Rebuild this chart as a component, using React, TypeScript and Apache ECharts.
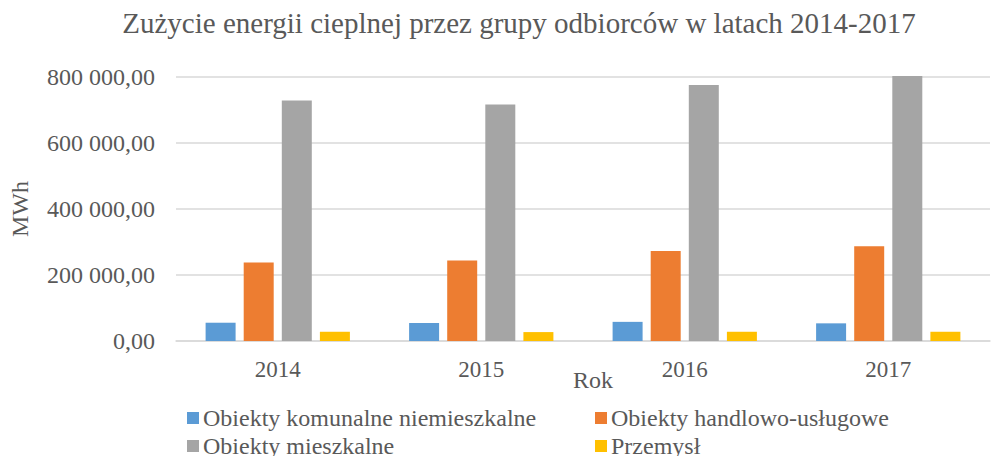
import React, { useEffect, useRef } from "react";
import * as echarts from "echarts";

const categories = ["2014", "2015", "2016", "2017"];
const komunalne = [55400, 54500, 58000, 53500];
const handlowe = [238000, 244000, 273000, 287500];
const mieszkalne = [728500, 717000, 776000, 803000];
const przemysl = [28000, 27000, 28000, 28000];
const seriesNames = [
  "Obiekty komunalne niemieszkalne",
  "Obiekty handlowo-usługowe",
  "Obiekty mieszkalne",
  "Przemysł",
];
const colors = ["#5b9bd5", "#ed7d31", "#a5a5a5", "#ffc000"];

const FONT = "'Liberation Serif', 'Times New Roman', serif";
const TXT = "#595959";

function fmt(v: number): string {
  const s = Math.round(v).toString().replace(/\B(?=(\d{3})+(?!\d))/g, " ");
  return s + ",00";
}

export default function App() {
  const ref = useRef<HTMLDivElement>(null);
  useEffect(() => {
    document.body.style.margin = "0";
    const chart = echarts.init(ref.current!, null, { renderer: "svg" });
    const data = [komunalne, handlowe, mieszkalne, przemysl];
    const legendBase = {
      orient: "vertical",
      top: 406,
      height: 70,
      padding: 0,
      itemWidth: 12,
      itemHeight: 12,
      itemGap: 4,
      icon: "rect",
      textStyle: { fontFamily: FONT, fontSize: 24, color: TXT, padding: [0, 0, 0, -1] },
    };
    chart.setOption({
      animation: false,
      textStyle: { fontFamily: FONT },
      title: {
        text: "Zużycie energii cieplnej przez grupy odbiorców w latach 2014-2017",
        left: 519,
        textAlign: "center",
        top: 8,
        padding: 0,
        textStyle: { fontFamily: FONT, fontSize: 29, fontWeight: "normal", color: TXT },
      },
      legend: [
        { ...legendBase, data: [seriesNames[0], seriesNames[2]], left: 187 },
        { ...legendBase, data: [seriesNames[1], seriesNames[3]], left: 595 },
      ],
      grid: { left: 176, right: 6, top: 77, bottom: 115, containLabel: false },
      xAxis: {
        type: "category",
        data: categories,
        axisLine: { lineStyle: { color: "#d9d9d9", width: 1.5 } },
        axisTick: { show: false },
        axisLabel: { fontFamily: FONT, fontSize: 23, color: TXT, margin: 17 },
      },
      yAxis: {
        type: "value",
        min: 0,
        max: 800000,
        interval: 200000,
        name: "MWh",
        nameLocation: "middle",
        nameRotate: 90,
        nameGap: 144,
        nameTextStyle: { fontFamily: FONT, fontSize: 24, color: TXT },
        axisLine: { show: false },
        axisTick: { show: false },
        splitLine: { lineStyle: { color: "#d9d9d9", width: 1.5 } },
        axisLabel: { fontFamily: FONT, fontSize: 24, color: TXT, margin: 21, formatter: (v: number) => fmt(v) },
      },
      graphic: [
        {
          type: "text",
          left: 573,
          top: 368,
          style: { text: "Rok", font: `24px ${FONT}`, fill: TXT },
        },
      ],
      series: data.map((d, i) => ({
        type: "bar",
        name: seriesNames[i],
        data: d,
        barWidth: 30,
        barGap: "27%",
        clip: false,
        itemStyle: { color: colors[i] },
      })),
    });
    return () => chart.dispose();
  }, []);
  return <div ref={ref} style={{ width: 996, height: 456 }} />;
}
